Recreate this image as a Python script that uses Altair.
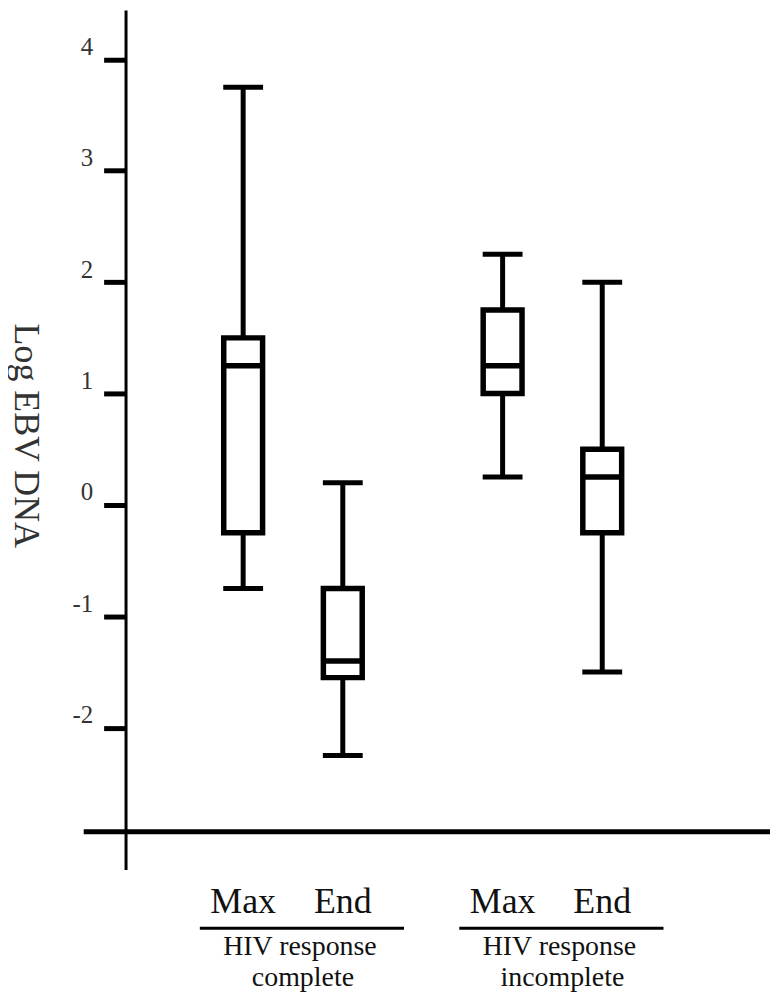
import altair as alt
import pandas as pd

# ---- data ----
groups = ["complete", "complete", "incomplete", "incomplete"]
phases = ["Max", "End", "Max", "End"]
whisker_low = [-0.75, -2.25, 0.25, -1.5]
q1 = [-0.25, -1.55, 1.0, -0.25]
median = [1.25, -1.4, 1.25, 0.25]
q3 = [1.5, -0.75, 1.75, 0.5]
whisker_high = [3.75, 0.2, 2.25, 2.0]

group_names = ["complete", "incomplete"]
group_line1 = ["HIV response", "HIV response"]
group_line2 = ["complete", "incomplete"]
phase_order = ["Max", "End"]

y_ticks = [-2, -1, 0, 1, 2, 3, 4]
y_domain = [-3.273, 4.444]
baseline_value = [-2.933]
y_title = "Log EBV DNA"

df = pd.DataFrame(dict(group=groups, phase=phases, lo=whisker_low, q1=q1,
                       med=median, q3=q3, hi=whisker_high))
gdf = pd.DataFrame(dict(group=group_names, line1=group_line1, line2=group_line2))
bdf = pd.DataFrame(dict(v=baseline_value))

W, H = 647, 863
SERIF = "Liberation Serif"

xenc = alt.X("group:N", sort=group_names, axis=None,
             scale=alt.Scale(domain=group_names, paddingInner=0.232,
                             paddingOuter=0.358, align=0.365))
xoff = alt.XOffset("phase:N", sort=phase_order,
                   scale=alt.Scale(domain=phase_order, paddingInner=0, paddingOuter=0))
yscale = alt.Scale(domain=y_domain, nice=False, zero=False)
yaxis = alt.Axis(values=y_ticks, title=y_title, grid=False,
                 domainColor="black", domainWidth=3,
                 tickColor="black", tickWidth=5, tickSize=22,
                 labelPadding=11, labelFont=SERIF, labelFontSize=25,
                 labelColor="#333", labelOffset=-13,
                 labelExpr="'' + datum.value",
                 titleFont=SERIF, titleFontSize=36, titleFontWeight="normal",
                 titleColor="#333", titleAngle=90, titleBaseline="alphabetic",
                 titleAlign="center", titleX=-111, titleY=427)


def Y(field):
    return alt.Y(field, type="quantitative", scale=yscale, axis=yaxis)


base = alt.Chart(df)

whiskers = base.mark_rule(color="black", strokeWidth=5).encode(
    x=xenc, xOffset=xoff, y=Y("lo"), y2="hi")
boxes = base.mark_bar(size=39, fill="white", stroke="black", strokeWidth=5.5,
                      opacity=1).encode(x=xenc, xOffset=xoff, y=Y("q1"), y2="q3")
medians = base.mark_tick(color="black", size=39, thickness=5.5, opacity=1,
                         orient="horizontal").encode(x=xenc, xOffset=xoff, y=Y("med"))
caps_lo = base.mark_tick(color="black", size=40, thickness=5, opacity=1,
                         orient="horizontal").encode(x=xenc, xOffset=xoff, y=Y("lo"))
caps_hi = base.mark_tick(color="black", size=40, thickness=5, opacity=1,
                         orient="horizontal").encode(x=xenc, xOffset=xoff, y=Y("hi"))

baseline = alt.Chart(bdf).mark_rule(color="black", strokeWidth=5).encode(
    x=alt.value(-42), x2=alt.value(W), y=Y("v"))

phase_text = base.mark_text(font=SERIF, fontSize=36, baseline="alphabetic",
                            color="#111").encode(
    x=xenc, xOffset=xoff, y=alt.value(907), text="phase:N")

group_rule = alt.Chart(gdf).mark_tick(color="black", size=205, thickness=3,
                                      opacity=1, orient="horizontal", xOffset=9).encode(
    x=xenc, y=alt.value(922))
group_t1 = alt.Chart(gdf).mark_text(font=SERIF, fontSize=28, baseline="alphabetic",
                                    color="#111", dx=7).encode(
    x=xenc, y=alt.value(949), text="line1:N")
group_t2 = alt.Chart(gdf).mark_text(font=SERIF, fontSize=28, baseline="alphabetic",
                                    color="#111", dx=10).encode(
    x=xenc, y=alt.value(980), text="line2:N")

chart = alt.layer(
    whiskers, boxes, medians, caps_lo, caps_hi, baseline,
    phase_text, group_rule, group_t1, group_t2
).properties(width=W, height=H, padding=0).configure_view(strokeWidth=0)

chart.save("out.html", embed_options={"renderer": "svg", "actions": False})
